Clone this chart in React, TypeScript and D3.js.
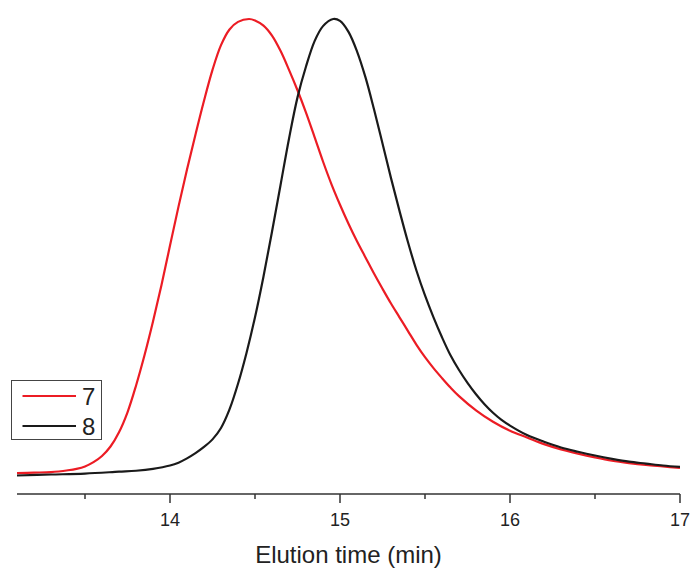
import React from "react";
import * as d3 from "d3";

const seriesNames = ["7", "8"];
const seriesColors = ["#ec1c24", "#1a1a1a"];

const time7 = [13.1, 13.2, 13.3, 13.4, 13.45, 13.5, 13.55, 13.6, 13.65, 13.7, 13.75, 13.8, 13.85, 13.9, 13.95, 14.0, 14.05, 14.1, 14.15, 14.2, 14.25, 14.3, 14.35, 14.4, 14.465, 14.5, 14.55, 14.6, 14.65, 14.7, 14.75, 14.8, 14.85, 14.9, 14.95, 15.0, 15.05, 15.1, 15.15, 15.2, 15.25, 15.3, 15.35, 15.4, 15.45, 15.5, 15.55, 15.6, 15.65, 15.7, 15.8, 15.9, 16.0, 16.1, 16.2, 16.3, 16.4, 16.5, 16.6, 16.7, 16.8, 16.9, 17.0];
const signal7 = [0.044, 0.045, 0.046, 0.05, 0.053, 0.058, 0.067, 0.08, 0.1, 0.13, 0.172, 0.228, 0.292, 0.363, 0.44, 0.523, 0.605, 0.683, 0.757, 0.828, 0.893, 0.945, 0.978, 0.994, 1.0, 0.997, 0.986, 0.965, 0.933, 0.893, 0.85, 0.803, 0.752, 0.7, 0.652, 0.609, 0.569, 0.532, 0.498, 0.464, 0.432, 0.401, 0.372, 0.343, 0.314, 0.288, 0.265, 0.244, 0.224, 0.206, 0.176, 0.152, 0.133, 0.119, 0.105, 0.094, 0.085, 0.077, 0.07, 0.065, 0.061, 0.058, 0.055];

const time8 = [13.1, 13.3, 13.5, 13.7, 13.8, 13.9, 14.0, 14.05, 14.1, 14.15, 14.2, 14.25, 14.3, 14.35, 14.4, 14.45, 14.5, 14.55, 14.6, 14.65, 14.7, 14.75, 14.8, 14.85, 14.9, 14.96, 15.0, 15.05, 15.1, 15.15, 15.2, 15.25, 15.3, 15.35, 15.4, 15.45, 15.5, 15.55, 15.6, 15.65, 15.7, 15.75, 15.8, 15.85, 15.9, 15.95, 16.0, 16.1, 16.2, 16.3, 16.4, 16.5, 16.6, 16.7, 16.8, 16.9, 17.0];
const signal8 = [0.039, 0.041, 0.043, 0.047, 0.049, 0.053, 0.06, 0.066, 0.075, 0.086, 0.099, 0.115, 0.139, 0.178, 0.232, 0.297, 0.372, 0.458, 0.552, 0.65, 0.748, 0.835, 0.9, 0.953, 0.985, 1.0, 0.996, 0.973, 0.932, 0.877, 0.81, 0.738, 0.665, 0.596, 0.53, 0.47, 0.418, 0.372, 0.33, 0.292, 0.261, 0.234, 0.21, 0.189, 0.171, 0.156, 0.144, 0.124, 0.11, 0.098, 0.089, 0.081, 0.074, 0.068, 0.064, 0.06, 0.057];

const majorTicks = [14, 15, 16, 17];
const minorTicks = [13.5, 14.5, 15.5, 16.5];
const xTitle = "Elution time (min)";

export default function App() {
  const W = 692, H = 568;
  const x = d3.scaleLinear().domain([13.1, 17]).range([17, 680]);
  const y = d3.scaleLinear().domain([0, 1]).range([494, 19]);
  const line = d3
    .line<[number, number]>()
    .x((d) => x(d[0]))
    .y((d) => y(d[1]))
    .curve(d3.curveCatmullRom.alpha(0.5));
  const s7 = time7.map((t, i) => [t, signal7[i]] as [number, number]);
  const s8 = time8.map((t, i) => [t, signal8[i]] as [number, number]);
  const font = "'Liberation Sans', Arial, sans-serif";
  const axisY = 494;
  return (
    <svg
      width={W}
      height={H}
      style={{ position: "absolute", left: 0, top: 0, background: "#fff" }}
      fontFamily={font}
    >
      <path d={line(s7) || ""} fill="none" stroke={seriesColors[0]} strokeWidth={2.2} />
      <path d={line(s8) || ""} fill="none" stroke={seriesColors[1]} strokeWidth={2.2} />
      <line x1={x(13.1)} x2={x(17)} y1={axisY} y2={axisY} stroke="#333" strokeWidth={1.5} />
      {majorTicks.map((t) => (
        <g key={"M" + t}>
          <line x1={x(t)} x2={x(t)} y1={axisY} y2={axisY + 9} stroke="#333" strokeWidth={1.5} />
          <text x={x(t)} y={526} fontSize={18} textAnchor="middle" fill="#222">
            {t}
          </text>
        </g>
      ))}
      {minorTicks.map((t) => (
        <line key={"m" + t} x1={x(t)} x2={x(t)} y1={axisY} y2={axisY + 5} stroke="#333" strokeWidth={1.5} />
      ))}
      <text x={348.5} y={563} fontSize={24} textAnchor="middle" fill="#222">
        {xTitle}
      </text>
      <rect x={11.5} y={380.5} width={90} height={59} fill="#fff" stroke="#444" strokeWidth={1} />
      {seriesNames.map((n, i) => (
        <g key={n}>
          <line x1={22.5} x2={76} y1={396 + i * 30} y2={396 + i * 30} stroke={seriesColors[i]} strokeWidth={2} />
          <text x={82} y={405 + i * 30} fontSize={24} fill="#222">
            {n}
          </text>
        </g>
      ))}
    </svg>
  );
}
